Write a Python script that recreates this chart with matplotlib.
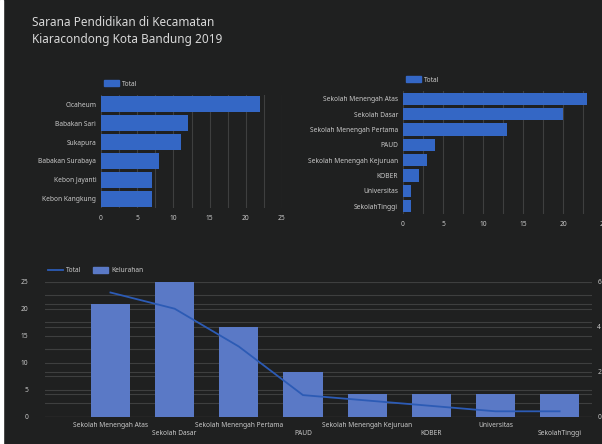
import matplotlib.pyplot as plt
from matplotlib.lines import Line2D
from matplotlib.patches import Patch, Rectangle
import numpy as np

plt.rcParams['font.family'] = ['Noto Sans', 'DejaVu Sans']

# data
kelurahan = ['Cicaheum', 'Babakan Sari', 'Sukapura', 'Babakan Surabaya',
             'Kebon Jayanti', 'Kebon Kangkung']
kelurahan_total = [22, 12, 11, 8, 7, 7]

jenis = ['Sekolah Menengah Atas', 'Sekolah Dasar', 'Sekolah Menengah Pertama',
         'PAUD', 'Sekolah Menengah Kejuruan', 'KOBER', 'Universitas',
         'SekolahTinggi']
jenis_total = [23, 20, 13, 4, 3, 2, 1, 1]
jenis_kelurahan = [5, 6, 4, 2, 1, 1, 1, 1]

BG = '#1f2020'
TXT = '#c8c8c8'
GRID = '#3e3f3f'
BLUE = '#3467c5'
BAR2 = '#5a79c6'
LINE = '#2c5bb5'

fig = plt.figure(figsize=(6.02, 4.44), dpi=100, facecolor=BG)
fig.patches.append(Rectangle((0, 0), 3 / 602, 1, transform=fig.transFigure,
                             color='white', zorder=10))

fig.text(32 / 602, 1 - 30.5 / 444, 'Sarana Pendidikan di Kecamatan\nKiaracondong Kota Bandung 2019',
         color='#d8d8d8', fontsize=8.5, va='center', ha='left', linespacing=1.4)


def style_hbar(ax):
    ax.set_facecolor(BG)
    for s in ax.spines.values():
        s.set_visible(False)
    ax.tick_params(colors=TXT, labelsize=4.8, length=0, which='both')
    ax.set_xlim(0, 25)
    ax.set_xticks(np.arange(0, 26, 5))
    ax.set_xticks(np.arange(0, 25.1, 2.5), minor=True)
    ax.grid(axis='x', which='both', color=GRID, linewidth=0.8)
    ax.set_axisbelow(True)
    ax.tick_params(axis='x', pad=5)


# top left
ax1 = fig.add_axes([101 / 602, 1 - 208 / 444, 181 / 602, 113 / 444])
y1 = np.arange(len(kelurahan))
ax1.barh(y1, kelurahan_total, height=0.85, color=BLUE)
ax1.set_yticks(y1, kelurahan)
ax1.set_ylim(len(kelurahan) - 0.5, -0.5)
style_hbar(ax1)
ax1.legend(handles=[Patch(color=BLUE, label='Total')], loc='center left',
           bbox_to_anchor=(98 / 602, 1 - 84 / 444), bbox_transform=fig.transFigure,
           frameon=False, fontsize=4.8, labelcolor=TXT, handlelength=2.2,
           handleheight=1.0, handletextpad=0.5)

# top right (axis runs past the right edge, as in the original)
ax2 = fig.add_axes([403 / 602, 1 - 214 / 444, 200 / 602, 123 / 444])
y2 = np.arange(len(jenis))
ax2.barh(y2, jenis_total, height=0.8, color=BLUE)
ax2.set_yticks(y2, jenis)
ax2.set_ylim(len(jenis) - 0.5, -0.5)
style_hbar(ax2)
ax2.legend(handles=[Patch(color=BLUE, label='Total')], loc='center left',
           bbox_to_anchor=(400 / 602, 1 - 80 / 444), bbox_transform=fig.transFigure,
           frameon=False, fontsize=4.8, labelcolor=TXT, handlelength=2.2,
           handleheight=1.0, handletextpad=0.5)

# bottom combo: line on left axis, bars on right axis
ax3 = fig.add_axes([45 / 602, 1 - 416.7 / 444, 546.7 / 602, 135 / 444])
ax3.set_facecolor(BG)
ax4 = ax3.twinx()
x3 = np.arange(len(jenis))
ax4.bar(x3, jenis_kelurahan, width=0.61, color=BAR2, zorder=2)
ax3.set_zorder(ax4.get_zorder() + 1)
ax3.patch.set_visible(False)
ax3.plot(x3, jenis_total, color=LINE, linewidth=1.3)
ax3.set_ylim(0, 25)
ax4.set_ylim(0, 6)
ax3.set_xlim(-1.02, 7.5)
ax3.set_yticks(np.arange(0, 26, 5))
ax4.set_yticks(np.arange(0, 7, 2))
ax4.set_yticks(np.arange(0, 6.1, 1), minor=True)
ax4.grid(axis='y', which='both', color=GRID, linewidth=0.8, zorder=0)
ax4.set_axisbelow(True)
for a in (ax3, ax4):
    for s in a.spines.values():
        s.set_visible(False)
    a.tick_params(colors=TXT, labelsize=4.8, length=0, which='both')
# left-axis grid drawn on the bar axis so it stays behind the bars
for v in np.arange(0, 25.1, 2.5):
    ax4.axhline(v * 6 / 25, color=GRID, linewidth=0.8, zorder=0)
ax4.axhline(0, color='#6a6a6a', linewidth=0.8, zorder=1)
labels = [('\n' + t) if i % 2 else t for i, t in enumerate(jenis)]
ax3.set_xticks(x3, labels)
ax3.tick_params(axis='y', pad=12)
ax3.tick_params(axis='x', pad=4)
ax4.tick_params(axis='y', pad=4)
ax3.legend(handles=[Line2D([], [], color=LINE, linewidth=1.3, label='Total'),
                    Patch(color=BAR2, label='Kelurahan')],
           loc='center left', bbox_to_anchor=(42 / 602, 1 - 270.7 / 444),
           bbox_transform=fig.transFigure, ncol=2, frameon=False, fontsize=4.8,
           labelcolor=TXT, handlelength=2.2, handleheight=1.0, handletextpad=0.5,
           columnspacing=1.8)

fig.savefig('out.png', dpi=100, facecolor=BG)
